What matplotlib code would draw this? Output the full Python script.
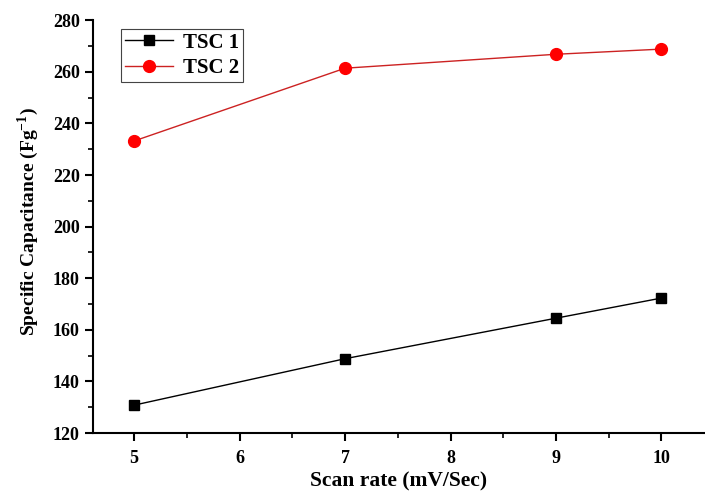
import matplotlib
matplotlib.use("Agg")
import matplotlib.pyplot as plt
from matplotlib.ticker import MultipleLocator

scan_rate = [5, 7, 9, 10]
tsc1 = [130.8, 148.8, 164.5, 172.3]
tsc2 = [233.2, 261.4, 266.8, 268.8]

plt.rcParams['font.family'] = ['Liberation Serif', 'DejaVu Serif']
plt.rcParams['font.weight'] = 'bold'
plt.rcParams['mathtext.fontset'] = 'custom'
plt.rcParams['mathtext.rm'] = 'Liberation Serif:bold'
plt.rcParams['mathtext.bf'] = 'Liberation Serif:bold'

fig = plt.figure(figsize=(7.05, 4.93), dpi=100)
ax = fig.add_axes([0.132, 0.1217, 0.866, 0.8373])

ax.plot(scan_rate, tsc1, color='black', marker='s', markersize=7, linewidth=1.0, label='TSC 1')
ax.plot(scan_rate, tsc2, color='#cc2222', marker='o', markersize=8.5, markerfacecolor='red',
        markeredgecolor='red', linewidth=1.0, label='TSC 2')

ax.set_xlim(4.61, 10.4)
ax.set_ylim(120, 280)
ax.xaxis.set_major_locator(MultipleLocator(1))
ax.xaxis.set_minor_locator(MultipleLocator(0.5))
ax.yaxis.set_major_locator(MultipleLocator(20))
ax.yaxis.set_minor_locator(MultipleLocator(10))
ax.spines['top'].set_visible(False)
ax.spines['right'].set_visible(False)
for s in ['left', 'bottom']:
    ax.spines[s].set_linewidth(1.5)
ax.tick_params(which='major', direction='out', length=6, width=1.5, labelsize=13)
ax.tick_params(which='minor', direction='out', length=3.5, width=1.2)
for lab in ax.get_xticklabels() + ax.get_yticklabels():
    lab.set_fontweight('bold')
ax.tick_params(axis='x', pad=6)

ax.set_xlabel('Scan rate (mV/Sec)', fontsize=15.5, fontweight='bold', va='baseline')
ax.xaxis.set_label_coords(0.5, -0.13)
ax.set_ylabel('Specific Capacitance (Fg$^{-1}$)', fontsize=14, fontweight='bold')
ax.yaxis.set_label_coords(-0.085, 0.512)

leg = ax.legend(loc='upper left', bbox_to_anchor=(0.028, 1.005), fancybox=False, edgecolor='#444444',
                framealpha=1, prop={'weight': 'bold', 'size': 15},
                handlelength=2.3, borderpad=0.2, labelspacing=0.25, handletextpad=0.5)
leg.get_frame().set_linewidth(0.8)

fig.savefig('out.png', dpi=100)
